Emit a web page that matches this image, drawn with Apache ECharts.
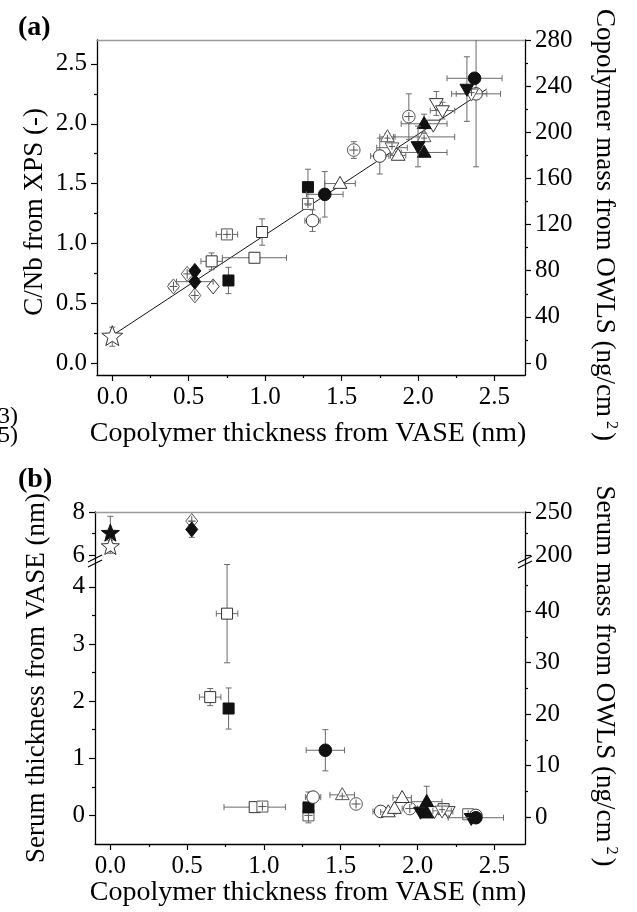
<!DOCTYPE html>
<html><head><meta charset="utf-8">
<script src="https://cdn.jsdelivr.net/npm/echarts@6/dist/echarts.min.js"></script>
<style>html,body{margin:0;padding:0;background:#fff}#c{width:637px;height:912px}</style>
</head><body><div id="c"></div>
<script>
// ---------------- DATA ----------------
// tick values
const aXTicks = [0, 0.5, 1.0, 1.5, 2.0, 2.5];
const aYTicks = [0, 0.5, 1.0, 1.5, 2.0, 2.5];
const aRightTicks = [0, 40, 80, 120, 160, 200, 240, 280];
const bXTicks = [0, 0.5, 1.0, 1.5, 2.0, 2.5];
const bLeftUpperTicks = [6, 8];
const bLeftLowerTicks = [0, 1, 2, 3, 4];
const bRightUpperTicks = [200, 250];
const bRightLowerTicks = [0, 10, 20, 30, 40];

// panel (a): [copolymer thickness (nm), C/Nb, x error, y error]
const aOpenStar      = [[0.00, 0.22, 0, 0.08]];
const aOpenDiamond   = [[0.66, 0.64, 0, 0]];
const aCrossDiamond  = [[0.40, 0.64, 0.03, 0], [0.49, 0.745, 0, 0], [0.54, 0.565, 0, 0.03]];
const aFilledDiamond = [[0.54, 0.77, 0, 0.03], [0.54, 0.68, 0.12, 0]];
const aOpenSquare    = [[0.98, 1.095, 0, 0.11], [0.93, 0.88, 0.21, 0], [0.65, 0.85, 0.07, 0.07]];
const aCrossSquare   = [[0.75, 1.075, 0.07, 0.02], [1.28, 1.33, 0, 0.04]];
const aFilledSquare  = [[1.28, 1.47, 0, 0.15], [0.76, 0.69, 0, 0.11]];
const aOpenCircle    = [[1.31, 1.19, 0.05, 0.09], [1.75, 1.73, 0.06, 0.15], [2.38, 2.25, 0.16, 0.61]];
const aCrossCircle   = [[1.58, 1.78, 0, 0.07], [1.94, 2.06, 0, 0.19]];
const aFilledCircle  = [[1.39, 1.41, 0.12, 0.19], [2.37, 2.38, 0.18, 0]];
const aOpenTriUp     = [[1.49, 1.50, 0.10, 0], [1.87, 1.735, 0.05, 0.03]];
const aCrossTriUp    = [[1.80, 1.89, 0.05, 0.03], [2.04, 1.89, 0.20, 0]];
const aFilledTriUp   = [[2.04, 2.00, 0.15, 0.08], [2.04, 1.76, 0.15, 0]];
const aOpenTriDown   = [[2.10, 1.99, 0, 0], [2.12, 2.17, 0, 0.10], [2.16, 2.11, 0.08, 0.07]];
const aCrossTriDown  = [[1.83, 1.80, 0.10, 0], [2.35, 2.25, 0.10, 0]];
const aFilledTriDown = [[2.00, 1.81, 0, 0.17], [2.32, 2.29, 0, 0.27]];
const aFitX = [0.0, 2.45];
const aFitY = [0.23, 2.29];

// panel (b) upper segment: [copolymer thickness (nm), serum thickness (nm), x error, y error]
const bFilledStar    = [[0.00, 7.00, 0, 0.80]];
const bOpenStar      = [[0.00, 6.38, 0, 0.30]];
const bCrossDiamond  = [[0.53, 7.58, 0, 0]];
const bFilledDiamond = [[0.53, 7.19, 0, 0.37]];
// panel (b) lower segment
const bOpenSquare    = [[0.76, 3.53, 0.07, 0.86], [0.65, 2.07, 0.07, 0.15], [0.94, 0.145, 0.20, 0], [2.17, 0.11, 0.05, 0]];
const bCrossSquare   = [[0.99, 0.155, 0, 0], [1.29, 0.0, 0, 0], [2.33, 0.02, 0, 0]];
const bFilledSquare  = [[0.77, 1.87, 0, 0.36], [1.29, 0.14, 0, 0.27]];
const bOpenCircle    = [[1.32, 0.32, 0.05, 0.04], [1.76, 0.07, 0.05, 0], [2.38, 0.0, 0, 0]];
const bCrossCircle   = [[1.60, 0.20, 0, 0], [1.95, 0.12, 0.05, 0]];
const bFilledCircle  = [[1.40, 1.14, 0.125, 0.36], [2.38, -0.04, 0.18, 0]];
const bOpenTriUp     = [[1.81, 0.06, 0.05, 0], [1.85, 0.12, 0, 0], [1.90, 0.31, 0.06, 0]];
const bCrossTriUp    = [[1.51, 0.36, 0.08, 0.05]];
const bFilledTriUp   = [[2.06, 0.24, 0.10, 0.27], [2.06, 0.04, 0, 0]];
const bOpenTriDown   = [[2.11, 0.07, 0, 0], [2.20, 0.07, 0.03, 0]];
const bCrossTriDown  = [[2.16, 0.08, 0.06, 0]];
const bFilledTriDown = [[2.02, 0.06, 0, 0], [2.35, -0.05, 0, 0]];

// ---------------- LAYOUT ----------------
const FONT = '"Liberation Serif", "Times New Roman", serif';
const A = {left: 97, top: 40, width: 428, height: 335, xmin: -0.1, xmax: 2.7, ymin: -0.1, ymax: 2.7};
const B = {left: 95, width: 430, top: 512, upH: 46.2, loH: 285.8, xmin: -0.1, xmax: 2.7,
           upMin: 5.85, upMax: 8, loMin: -0.5, loMax: 4.5};
const sAx = A.width / (A.xmax - A.xmin), sAy = A.height / (A.ymax - A.ymin);
const sBx = B.width / (B.xmax - B.xmin);
const sBup = B.upH / (B.upMax - B.upMin), sBlo = B.loH / (B.loMax - B.loMin);
const bLoTop = B.top + B.upH;
const bZeroY = bLoTop + (B.loMax - 0) * sBlo;
const bRightZeroY = bZeroY + 1.6, bRightScale = 5.15;

const grids = [], xAxes = [], yAxes = [], series = [];
function addGrid(g) { grids.push(Object.assign({containLabel: false}, g)); return grids.length - 1; }
function frameAxis(gridIndex, min, max, position, color) {
  return {type: 'value', gridIndex, min, max, position, show: true,
    axisLine: {show: !!color, onZero: false, lineStyle: {color: color || '#000', width: 1.3}},
    axisTick: {show: false}, axisLabel: {show: false}, splitLine: {show: false}};
}
function hiddenAxis(gridIndex, min, max) {
  return {type: 'value', gridIndex, min, max, show: false, axisLine: {onZero: false}, splitLine: {show: false}};
}
function tickAxis(gridIndex, ticks, position, fmt, minorSplit, showLabel, len) {
  return {type: 'value', gridIndex, position, min: ticks[0], max: ticks[ticks.length - 1],
    interval: ticks.length > 1 ? ticks[1] - ticks[0] : 1,
    axisLine: {show: false, onZero: false},
    axisTick: {show: true, inside: false, length: len || 6, lineStyle: {color: '#000', width: 1.2}},
    minorTick: {show: minorSplit > 1, splitNumber: minorSplit || 1, length: 3, lineStyle: {color: '#000', width: 1.2}},
    axisLabel: {show: showLabel !== false, formatter: fmt, color: '#000', fontFamily: FONT, fontSize: 25, margin: 10,
      showMinLabel: true, showMaxLabel: true},
    splitLine: {show: false}, minorSplitLine: {show: false}};
}
const f1 = v => Number(v).toFixed(1);
const f0 = v => String(Math.round(v));

// ---- panel a ----
const gA = addGrid({left: A.left, top: A.top, width: A.width, height: A.height});
const axA = xAxes.length; xAxes.push(frameAxis(gA, A.xmin, A.xmax, 'bottom', '#000'));
xAxes.push(frameAxis(gA, A.xmin, A.xmax, 'top', '#9a9a9a'));
const ayA = yAxes.length; yAxes.push(frameAxis(gA, A.ymin, A.ymax, 'left', '#000'));
yAxes.push(frameAxis(gA, A.ymin, A.ymax, 'right', '#000'));

// x ticks a
let g = addGrid({left: A.left + (aXTicks[0] - A.xmin) * sAx, top: A.top,
  width: (aXTicks[aXTicks.length - 1] - aXTicks[0]) * sAx, height: A.height});
xAxes.push(tickAxis(g, aXTicks, 'bottom', f1, 2)); yAxes.push(hiddenAxis(g, 0, 1));
// left y ticks a
g = addGrid({left: A.left, width: A.width, top: A.top + (A.ymax - aYTicks[aYTicks.length - 1]) * sAy,
  height: (aYTicks[aYTicks.length - 1] - aYTicks[0]) * sAy});
xAxes.push(hiddenAxis(g, 0, 1)); yAxes.push(tickAxis(g, aYTicks, 'left', f1, 2));
// right ticks a (0 aligned with C/Nb = 0, 280 at top)
g = addGrid({left: A.left, width: A.width, top: A.top, height: (A.ymax - 0) * sAy});
xAxes.push(hiddenAxis(g, 0, 1)); yAxes.push(tickAxis(g, aRightTicks, 'right', f0, 2));

// ---- panel b ----
const gBu = addGrid({left: B.left, width: B.width, top: B.top, height: B.upH});
const axBu = xAxes.length; xAxes.push(frameAxis(gBu, B.xmin, B.xmax, 'top', '#9a9a9a'));
const ayBu = yAxes.length; yAxes.push(frameAxis(gBu, B.upMin, B.upMax, 'left', '#000'));
yAxes.push(frameAxis(gBu, B.upMin, B.upMax, 'right', '#000'));

const gBl = addGrid({left: B.left, width: B.width, top: bLoTop, height: B.loH});
const axBl = xAxes.length; xAxes.push(frameAxis(gBl, B.xmin, B.xmax, 'bottom', '#000'));
const ayBl = yAxes.length; yAxes.push(frameAxis(gBl, B.loMin, B.loMax, 'left', '#000'));
yAxes.push(frameAxis(gBl, B.loMin, B.loMax, 'right', '#000'));

g = addGrid({left: B.left + (bXTicks[0] - B.xmin) * sBx, top: bLoTop,
  width: (bXTicks[bXTicks.length - 1] - bXTicks[0]) * sBx, height: B.loH});
xAxes.push(tickAxis(g, bXTicks, 'bottom', f1, 2)); yAxes.push(hiddenAxis(g, 0, 1));

g = addGrid({left: B.left, width: B.width, top: B.top + (B.upMax - bLeftUpperTicks[1]) * sBup,
  height: (bLeftUpperTicks[1] - bLeftUpperTicks[0]) * sBup});
xAxes.push(hiddenAxis(g, 0, 1)); yAxes.push(tickAxis(g, bLeftUpperTicks, 'left', f0, 2));

g = addGrid({left: B.left, width: B.width, top: bZeroY - bLeftLowerTicks[bLeftLowerTicks.length - 1] * sBlo,
  height: bLeftLowerTicks[bLeftLowerTicks.length - 1] * sBlo});
xAxes.push(hiddenAxis(g, 0, 1)); yAxes.push(tickAxis(g, bLeftLowerTicks, 'left', f0, 2));

g = addGrid({left: B.left, width: B.width, top: B.top + (B.upMax - bLeftUpperTicks[1]) * sBup,
  height: (bLeftUpperTicks[1] - bLeftUpperTicks[0]) * sBup});
xAxes.push(hiddenAxis(g, 0, 1)); yAxes.push(tickAxis(g, bRightUpperTicks, 'right', f0, 2));

const rTop = bRightLowerTicks[bRightLowerTicks.length - 1];
g = addGrid({left: B.left, width: B.width, top: bRightZeroY - rTop * bRightScale, height: rTop * bRightScale});
xAxes.push(hiddenAxis(g, 0, 1)); yAxes.push(tickAxis(g, bRightLowerTicks, 'right', f0, 2));
g = addGrid({left: B.left, width: B.width, top: bRightZeroY - 45 * bRightScale, height: 45 * bRightScale});
xAxes.push(hiddenAxis(g, 0, 1)); yAxes.push(tickAxis(g, [0, 45], 'right', f0, 1, false, 3));

// ---------------- MARKERS ----------------
function shapeEls(kind, look, cx, cy, s) {
  const filled = look === 'filled';
  const stroke = filled ? '#111' : (look === 'crossed' ? '#555' : '#333');
  const st = {fill: filled ? '#111' : '#fff', stroke, lineWidth: 1};
  const r = s / 2, els = [];
  let ch = r * 0.75, cv = r * 0.75, ccy = cy;
  if (kind === 'square') {
    els.push({type: 'rect', shape: {x: cx - r, y: cy - r, width: s, height: s}, style: st});
  } else if (kind === 'circle') {
    els.push({type: 'circle', shape: {cx, cy, r: r * 1.05}, style: st});
  } else if (kind === 'diamond') {
    const h = r * 1.25, w = r * 1.0;
    els.push({type: 'polygon', shape: {points: [[cx, cy - h], [cx + w, cy], [cx, cy + h], [cx - w, cy]]}, style: st});
    ch = w * 0.65; cv = h * 0.65;
  } else if (kind === 'triUp' || kind === 'triDown') {
    const d = kind === 'triUp' ? 1 : -1;
    els.push({type: 'polygon', shape: {points: [[cx, cy - d * r * 1.2], [cx + r * 1.15, cy + d * r * 0.8], [cx - r * 1.15, cy + d * r * 0.8]]}, style: st});
    ccy = cy + d * r * 0.2; ch = r * 0.5; cv = r * 0.55;
  } else if (kind === 'star') {
    const pts = [];
    for (let i = 0; i < 10; i++) {
      const rr = i % 2 === 0 ? r : r * 0.42;
      const a = -Math.PI / 2 + i * Math.PI / 5;
      pts.push([cx + rr * Math.cos(a), cy + rr * Math.sin(a)]);
    }
    els.push({type: 'polygon', shape: {points: pts}, style: st});
  }
  if (look === 'crossed') {
    const ls = {stroke: '#555', lineWidth: 1};
    els.push({type: 'line', shape: {x1: cx - ch, y1: ccy, x2: cx + ch, y2: ccy}, style: ls});
    els.push({type: 'line', shape: {x1: cx, y1: ccy - cv, x2: cx, y2: ccy + cv}, style: ls});
  }
  return els;
}
function markerSeries(data, kind, look, size, xi, yi, z) {
  return {
    type: 'custom', xAxisIndex: xi, yAxisIndex: yi, data, clip: true, z: z || 3,
    encode: {x: 0, y: 1}, silent: true,
    renderItem(params, api) {
      const x = api.value(0), y = api.value(1), dx = api.value(2), dy = api.value(3);
      const c = api.coord([x, y]);
      const ch = [];
      const es = {stroke: '#6a6a6a', lineWidth: 1};
      const cap = 3;
      if (dx > 0) {
        const a = api.coord([x - dx, y]), b = api.coord([x + dx, y]);
        ch.push({type: 'line', shape: {x1: a[0], y1: a[1], x2: b[0], y2: b[1]}, style: es});
        ch.push({type: 'line', shape: {x1: a[0], y1: a[1] - cap, x2: a[0], y2: a[1] + cap}, style: es});
        ch.push({type: 'line', shape: {x1: b[0], y1: b[1] - cap, x2: b[0], y2: b[1] + cap}, style: es});
      }
      if (dy > 0) {
        const a = api.coord([x, y - dy]), b = api.coord([x, y + dy]);
        ch.push({type: 'line', shape: {x1: a[0], y1: a[1], x2: b[0], y2: b[1]}, style: es});
        ch.push({type: 'line', shape: {x1: a[0] - cap, y1: a[1], x2: a[0] + cap, y2: a[1]}, style: es});
        ch.push({type: 'line', shape: {x1: b[0] - cap, y1: b[1], x2: b[0] + cap, y2: b[1]}, style: es});
      }
      return {type: 'group', children: ch.concat(shapeEls(kind, look, c[0], c[1], size))};
    }
  };
}

// fit line in panel a
series.push({type: 'line', xAxisIndex: axA, yAxisIndex: ayA, data: aFitX.map((v, i) => [v, aFitY[i]]),
  showSymbol: false, symbol: 'none', lineStyle: {color: '#111', width: 1}, z: 2, silent: true});

const M = 12;
[
  [aOpenStar, 'star', 'open', 22], [aCrossDiamond, 'diamond', 'crossed', M], [aOpenDiamond, 'diamond', 'open', M],
  [aFilledDiamond, 'diamond', 'filled', M], [aOpenSquare, 'square', 'open', 11], [aCrossSquare, 'square', 'crossed', 11],
  [aFilledSquare, 'square', 'filled', 11], [aOpenCircle, 'circle', 'open', M], [aCrossCircle, 'circle', 'crossed', M],
  [aFilledCircle, 'circle', 'filled', M], [aOpenTriUp, 'triUp', 'open', M], [aCrossTriUp, 'triUp', 'crossed', M],
  [aOpenTriDown, 'triDown', 'open', M], [aCrossTriDown, 'triDown', 'crossed', M],
  [aFilledTriUp, 'triUp', 'filled', M], [aFilledTriDown, 'triDown', 'filled', M]
].forEach(d => series.push(markerSeries(d[0], d[1], d[2], d[3], axA, ayA)));

[
  [bFilledStar, 'star', 'filled', 19], [bOpenStar, 'star', 'open', 19],
  [bCrossDiamond, 'diamond', 'crossed', M], [bFilledDiamond, 'diamond', 'filled', M]
].forEach(d => series.push(markerSeries(d[0], d[1], d[2], d[3], axBu, ayBu)));

[
  [bOpenSquare, 'square', 'open', 11], [bCrossSquare, 'square', 'crossed', 11], [bFilledSquare, 'square', 'filled', 11],
  [bOpenCircle, 'circle', 'open', M], [bCrossCircle, 'circle', 'crossed', M],
  [bOpenTriUp, 'triUp', 'open', M], [bCrossTriUp, 'triUp', 'crossed', M],
  [bOpenTriDown, 'triDown', 'open', M], [bCrossTriDown, 'triDown', 'crossed', M],
  [bFilledTriUp, 'triUp', 'filled', M], [bFilledTriDown, 'triDown', 'filled', M], [bFilledCircle, 'circle', 'filled', M]
].forEach(d => series.push(markerSeries(d[0], d[1], d[2], d[3], axBl, ayBl)));

// ---------------- TEXT / DECOR ----------------
const tStyle = (text, size) => ({text, fill: '#000', font: (size || 27) + 'px ' + FONT, align: 'center', verticalAlign: 'middle'});
const richTitle = (pre) => ({
  text: '{t|' + pre + '}{s|2}{t|)}', align: 'center', verticalAlign: 'middle', fill: '#000',
  rich: {t: {fontFamily: FONT, fontSize: 27, lineHeight: 30, fill: '#000'},
         s: {fontFamily: FONT, fontSize: 16, lineHeight: 30, verticalAlign: 'top', padding: [0, 3, 0, 4], fill: '#000'}}
});
const breakLines = (x, y) => [
  {type: 'line', shape: {x1: x - 7, y1: y + 6, x2: x + 7, y2: y - 1}, style: {stroke: '#000', lineWidth: 1.2}},
  {type: 'line', shape: {x1: x - 7, y1: y + 1, x2: x + 7, y2: y - 6}, style: {stroke: '#000', lineWidth: 1.2}}
];
const graphic = [
  {type: 'text', x: 18, y: 28, style: {text: '(a)', fill: '#000', font: 'bold 28px ' + FONT, align: 'left', verticalAlign: 'middle'}},
  {type: 'text', x: 18, y: 480, style: {text: '(b)', fill: '#000', font: 'bold 28px ' + FONT, align: 'left', verticalAlign: 'middle'}},
  {type: 'text', x: 35, y: 212, rotation: Math.PI / 2, style: tStyle('C/Nb from XPS (-)')},
  {type: 'text', x: 604, y: 225, rotation: -Math.PI / 2, style: richTitle('Copolymer mass from OWLS (ng/cm')},
  {type: 'text', x: 308, y: 434, style: tStyle('Copolymer thickness from VASE (nm)', 28)},
  {type: 'text', x: 37, y: 678, rotation: Math.PI / 2, style: tStyle('Serum thickness from VASE (nm)')},
  {type: 'text', x: 604, y: 676, rotation: -Math.PI / 2, style: richTitle('Serum mass from OWLS (ng/cm')},
  {type: 'text', x: 308, y: 893, style: tStyle('Copolymer thickness from VASE (nm)', 28)},
  {type: 'text', x: 18, y: 417, style: {text: '3)', fill: '#000', font: '24px ' + FONT, align: 'right', verticalAlign: 'middle'}},
  {type: 'text', x: 18, y: 436, style: {text: '5)', fill: '#000', font: '24px ' + FONT, align: 'right', verticalAlign: 'middle'}}
].concat(breakLines(B.left, 561), breakLines(B.left + B.width, 562));

const chart = echarts.init(document.getElementById('c'), null, {renderer: 'canvas'});
chart.setOption({
  animation: false, backgroundColor: '#fff',
  grid: grids, xAxis: xAxes, yAxis: yAxes, series, graphic
});
</script></body></html>
